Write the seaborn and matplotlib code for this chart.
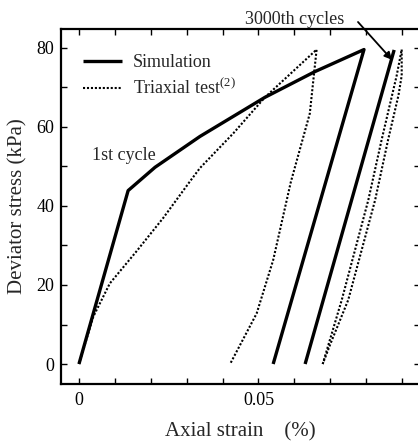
import numpy as np
import pandas as pd
import matplotlib
matplotlib.use("Agg")
import matplotlib.pyplot as plt
import seaborn as sns
from matplotlib.lines import Line2D

# ---- data ----
sim1_strain = [0.0, 0.0137, 0.0212, 0.0337, 0.0518, 0.0657, 0.0794, 0.0541]
sim1_stress = [0.0, 43.9, 49.8, 57.6, 67.5, 74.0, 79.6, 0.0]

sim3000_strain = [0.0630, 0.0878]
sim3000_stress = [0.0, 79.5]

tri1_strain = [0.0, 0.0040, 0.0086, 0.0160, 0.0235, 0.0309, 0.0337, 0.0430, 0.0518,
               0.0662, 0.0643, 0.0590, 0.0541, 0.0495, 0.0421]
tri1_stress = [0.0, 12.0, 20.4, 28.5, 37.0, 46.2, 49.6, 58.4, 67.5,
               79.6, 63.4, 46.0, 26.3, 12.8, 0.0]

tri3000_load_strain = [0.0679, 0.0732, 0.0806, 0.0843, 0.0885, 0.0899]
tri3000_load_stress = [0.0, 16.2, 41.5, 56.7, 73.0, 79.6]
tri3000_unload_strain = [0.0899, 0.0899, 0.0890, 0.0861, 0.0825, 0.0750, 0.0700, 0.0679]
tri3000_unload_stress = [79.6, 73.0, 68.0, 56.7, 41.5, 16.2, 5.0, 0.0]

series_labels = ["Simulation", "Triaxial test$^{\\mathrm{(2)}}$"]
xticks = [0, 0.05]
xticklabels = ["0", "0.05"]
yticks = [0, 20, 40, 60, 80]

# ---- style ----
sns.set_style("ticks")
plt.rcParams["font.family"] = ["Liberation Serif", "DejaVu Serif"]
plt.rcParams["mathtext.fontset"] = "custom"
plt.rcParams["mathtext.rm"] = "Liberation Serif"
plt.rcParams["mathtext.it"] = "Liberation Serif:italic"
plt.rcParams["mathtext.bf"] = "Liberation Serif:bold"

fig = plt.figure(figsize=(4.18, 4.43), dpi=100)
ax = fig.add_axes([61 / 418, 59 / 443, 359 / 418, 355 / 443])

def seg(xs, ys, name):
    return pd.DataFrame({"strain": xs, "stress": ys, "curve": name,
                         "order": np.arange(len(xs))})

solid_kw = dict(color="black", lw=2.4, solid_capstyle="butt")
dot_kw = dict(color="black", lw=1.5, linestyle=(0, (1.0, 0.9)))

for xs, ys in [(sim1_strain, sim1_stress), (sim3000_strain, sim3000_stress)]:
    d = seg(xs, ys, "sim")
    sns.lineplot(data=d, x="strain", y="stress", sort=False, estimator=None,
                 ax=ax, legend=False, **solid_kw)

for xs, ys in [(tri1_strain, tri1_stress),
               (tri3000_load_strain, tri3000_load_stress),
               (tri3000_unload_strain, tri3000_unload_stress)]:
    d = seg(xs, ys, "tri")
    sns.lineplot(data=d, x="strain", y="stress", sort=False, estimator=None,
                 ax=ax, legend=False, **dot_kw)

ax.set_xlim(-0.005, 0.095)
ax.set_ylim(-5.06, 84.8)

ax.set_xticks(np.arange(0, 0.0951, 0.01), minor=True)
ax.set_xticks(xticks)
ax.set_xticklabels(xticklabels)
ax.set_yticks(np.arange(0, 81, 10), minor=True)
ax.set_yticks(yticks)
ax.tick_params(which="both", direction="in", top=True, right=True,
               length=4.5, width=1.0, labelsize=13, colors="black")
ax.tick_params(axis="x", pad=6)
ax.tick_params(axis="y", pad=5)
for s in ax.spines.values():
    s.set_linewidth(1.6)
    s.set_color("black")

ax.set_xlabel("Axial strain    (%)", fontsize=15, labelpad=9)
ax.set_ylabel("Deviator stress (kPa)", fontsize=15, labelpad=6)

handles = [Line2D([], [], **solid_kw), Line2D([], [], **dot_kw)]
ax.legend(handles, series_labels, loc="upper left", bbox_to_anchor=(0.06, 0.93),
          frameon=False, fontsize=13, handlelength=2.2, handletextpad=0.6,
          labelspacing=0.4, borderaxespad=0, borderpad=0)

ax.text(0.0036, 52.9, "1st cycle", fontsize=13, ha="left", va="center")

fig.text(295 / 418, 1 - 19 / 443, "3000th cycles", fontsize=13,
         ha="center", va="center")
ax.annotate("", xy=(0.0872, 77.0), xycoords="data",
            xytext=(358 / 418, 1 - 22 / 443), textcoords="figure fraction",
            arrowprops=dict(arrowstyle="-|>", color="black", lw=1.3,
                            shrinkA=0, shrinkB=0, mutation_scale=11),
            annotation_clip=False)

fig.savefig("out.png", dpi=100)
